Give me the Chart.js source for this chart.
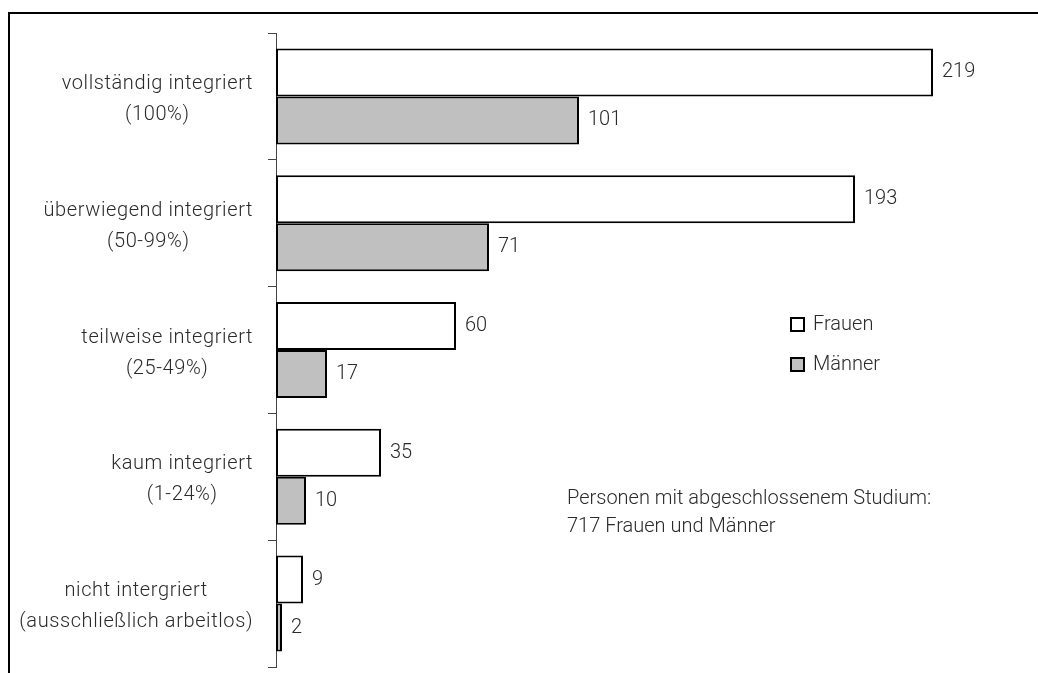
<!DOCTYPE html>
<html>
<head>
<meta charset="utf-8">
<script src="https://cdn.jsdelivr.net/npm/chart.js@4/dist/chart.umd.min.js"></script>
<style>
  html, body { margin: 0; padding: 0; background: #fff; }
  #wrap { width: 1038px; height: 673px; }
</style>
</head>
<body>
<div id="wrap"><canvas id="chart" width="1038" height="673"></canvas></div>
<script>
const categories = [
    ['vollständig integriert', '(100%)'],
    ['überwiegend integriert', '(50-99%)'],
    ['teilweise integriert', '(25-49%)'],
    ['kaum integriert', '(1-24%)'],
    ['nicht intergriert', '(ausschließlich arbeitlos)']
];
const frauen = [219, 193, 60, 35, 9];
const maenner = [101, 71, 17, 10, 2];
const seriesNames = ['Frauen', 'Männer'];
const noteLines = ['Personen mit abgeschlossenem Studium:', '717 Frauen und Männer'];

const FONT = 'Roboto, "Open Sans", sans-serif';
const FONT_CSS = '300 20px ' + FONT;
const TEXT = '#2a2a2a';

// frame, category labels, value labels, legend and note
const extras = {
    id: 'extras',
    beforeDraw(chart) {
        const ctx = chart.ctx;
        ctx.save();
        ctx.fillStyle = '#000';
        ctx.fillRect(8, 12, chart.width - 8, 2);
        ctx.fillRect(8, 12, 2, chart.height - 12);
        ctx.restore();
    },
    afterDraw(chart) {
        const ctx = chart.ctx;
        const y = chart.scales.y;
        ctx.save();
        ctx.fillStyle = TEXT;
        ctx.font = FONT_CSS;
        ctx.textBaseline = 'middle';

        // category labels: block right-aligned, lines centered inside block
        ctx.letterSpacing = '0.6px';
        categories.forEach((lines, i) => {
            const cy = y.getPixelForValue(i);
            const w = Math.max(...lines.map(l => ctx.measureText(l).width));
            const cx = y.right - 8 - 15 - w / 2;
            ctx.textAlign = 'center';
            lines.forEach((l, k) => {
                ctx.fillText(l, cx, cy + 3 + (k - (lines.length - 1) / 2) * 31);
            });
        });
        ctx.letterSpacing = '0px';

        // value labels at bar ends
        ctx.textAlign = 'left';
        chart.data.datasets.forEach((ds, di) => {
            chart.getDatasetMeta(di).data.forEach((bar, i) => {
                ctx.fillText(String(ds.data[i]), bar.x + 9, bar.y);
            });
        });

        // legend
        chart.data.datasets.forEach((ds, di) => {
            const ly = 325 + di * 40;
            ctx.fillStyle = ds.backgroundColor;
            ctx.fillRect(791, ly - 7, 13, 13);
            ctx.strokeStyle = '#000';
            ctx.lineWidth = 2;
            ctx.strokeRect(791, ly - 7, 13, 13);
            ctx.fillStyle = TEXT;
            ctx.fillText(ds.label, 813, ly);
        });

        // note
        noteLines.forEach((l, k) => {
            ctx.fillText(l, 567, 499 + k * 28);
        });
        ctx.restore();
    }
};

new Chart(document.getElementById('chart'), {
    type: 'bar',
    data: {
        labels: categories,
        datasets: [{
            label: seriesNames[0],
            data: frauen,
            backgroundColor: '#ffffff',
            borderColor: '#000000',
            borderWidth: 2,
            borderSkipped: false,
            categoryPercentage: 0.757,
            barPercentage: 1.0
        }, {
            label: seriesNames[1],
            data: maenner,
            backgroundColor: '#c0c0c0',
            borderColor: '#000000',
            borderWidth: 2,
            borderSkipped: false,
            categoryPercentage: 0.757,
            barPercentage: 1.0
        }]
    },
    options: {
        indexAxis: 'y',
        responsive: false,
        animation: false,
        layout: { padding: { top: 33, bottom: 6, right: 12, left: 0 } },
        plugins: {
            legend: { display: false },
            tooltip: { enabled: false }
        },
        scales: {
            x: {
                display: false,
                min: 0,
                max: 250
            },
            y: {
                afterFit(scale) { scale.width = 276; },
                ticks: { display: false },
                grid: {
                    drawOnChartArea: false,
                    drawTicks: true,
                    tickLength: 8,
                    color: '#444',
                    offset: true
                },
                border: { color: '#444', width: 1 }
            }
        }
    },
    plugins: [extras]
});
</script>
</body>
</html>
